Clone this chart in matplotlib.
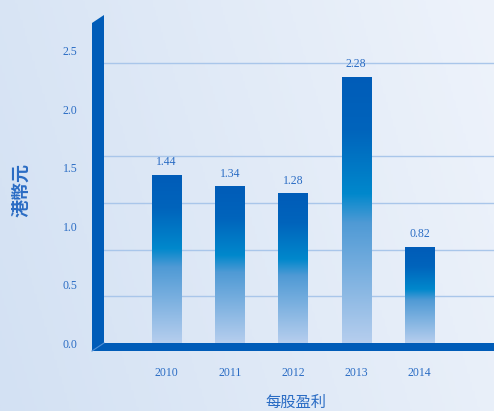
"""每股盈利 bar chart (港幣元), 2010-2014"""

import numpy as np
import matplotlib.pyplot as plt
from matplotlib.colors import LinearSegmentedColormap
from matplotlib.patches import Polygon
from matplotlib.ticker import MultipleLocator

# datos
years = ['2010', '2011', '2012', '2013', '2014']
eps = [1.44, 1.34, 1.28, 2.28, 0.82]
value_labels = ['1.44', '1.34', '1.28', '2.28', '0.82']
y_ticks = [0.0, 0.5, 1.0, 1.5, 2.0, 2.5]

W, H = 494, 411
blue = '#005cb8'
text_blue = '#2a6cc4'
grid_blue = '#a9c6ea'

plt.rcParams['font.family'] = ['Liberation Serif', 'DejaVu Serif']

fig = plt.figure(figsize=(W / 100, H / 100), dpi=100)

# fondo con degradado
bg = fig.add_axes([0, 0, 1, 1], zorder=-10)
gx = np.linspace(0, 1, 200)
gy = np.linspace(0, 1, 200)
gxx, gyy = np.meshgrid(gx, gy)
bg_cmap = LinearSegmentedColormap.from_list('bg', ['#d3e1f3', '#eef3fb'])
bg.imshow(0.8 * gxx + 0.2 * gyy, cmap=bg_cmap, aspect='auto',
          extent=[0, 1, 0, 1], origin='lower')
bg.axis('off')

# ejes principales (pixeles: izq 104, arriba 22, base 343)
left, right, top, base = 104, 494, 22, 343
ax = fig.add_axes([left / W, (H - base) / H, (right - left) / W, (base - top) / H])
ax.patch.set_alpha(0)

x = np.arange(len(years))
bars = ax.bar(x, eps, width=0.46, facecolor='none', edgecolor='none', zorder=3)

# degradado de cada barra
bar_cmap = LinearSegmentedColormap.from_list(
    'bar', [(0.0, '#b6ceee'), (0.45, '#4f9ad5'), (0.56, '#0088cc'),
            (0.8, '#0064bc'), (1.0, '#005cb8')])
grad = np.linspace(0, 1, 256).reshape(-1, 1)
for rect in bars:
    x0, w, h = rect.get_x(), rect.get_width(), rect.get_height()
    im = ax.imshow(grad, cmap=bar_cmap, aspect='auto', origin='lower',
                   extent=[x0, x0 + w, 0, h], zorder=3)
    im.set_clip_path(rect)

for xi, v, lab in zip(x, eps, value_labels):
    ax.annotate(lab, (xi, v), xytext=(0, 7), textcoords='offset points',
                ha='center', va='baseline', fontsize=8.5, color=text_blue)

ax.set_xlim(-0.99, 5.18)
ax.set_ylim(0, 2.747)

ax.set_xticks(x)
ax.set_xticklabels(years)
ax.set_yticks(y_ticks)
ax.set_yticklabels([f'{t:.1f}' for t in y_ticks])
ax.yaxis.set_minor_locator(MultipleLocator(0.4))
ax.tick_params(axis='both', which='both', length=0, colors=text_blue, labelsize=8.5)
ax.tick_params(axis='y', pad=19)
ax.tick_params(axis='x', pad=17)
ax.grid(axis='y', which='minor', color=grid_blue, linewidth=1)
ax.grid(axis='y', which='major', visible=False)
for s in ax.spines.values():
    s.set_visible(False)

# pared izquierda y piso en 3D
pts = [(92, 388), (104, 396), (104, 68), (494, 68), (494, 60), (92, 60)]
fig.add_artist(Polygon([(px / W, py / H) for px, py in pts], closed=True,
                       facecolor=blue, edgecolor='none', transform=fig.transFigure))
fig.add_artist(plt.Line2D([92 / W, 104 / W], [60 / H, 68 / H], color='#4f8fd6',
                          linewidth=0.8, transform=fig.transFigure))

cjk = ['Noto Sans CJK TC', 'DejaVu Sans']
fig.text(20.5 / W, (H - 190) / H, '港幣元', rotation=90, ha='center', va='center',
         fontsize=13, fontweight='bold', color=text_blue, family=cjk)
fig.text(296 / W, (H - 402) / H, '每股盈利', ha='center', va='center',
         fontsize=11, color=text_blue, family=cjk)

fig.savefig('out.png', dpi=100)
